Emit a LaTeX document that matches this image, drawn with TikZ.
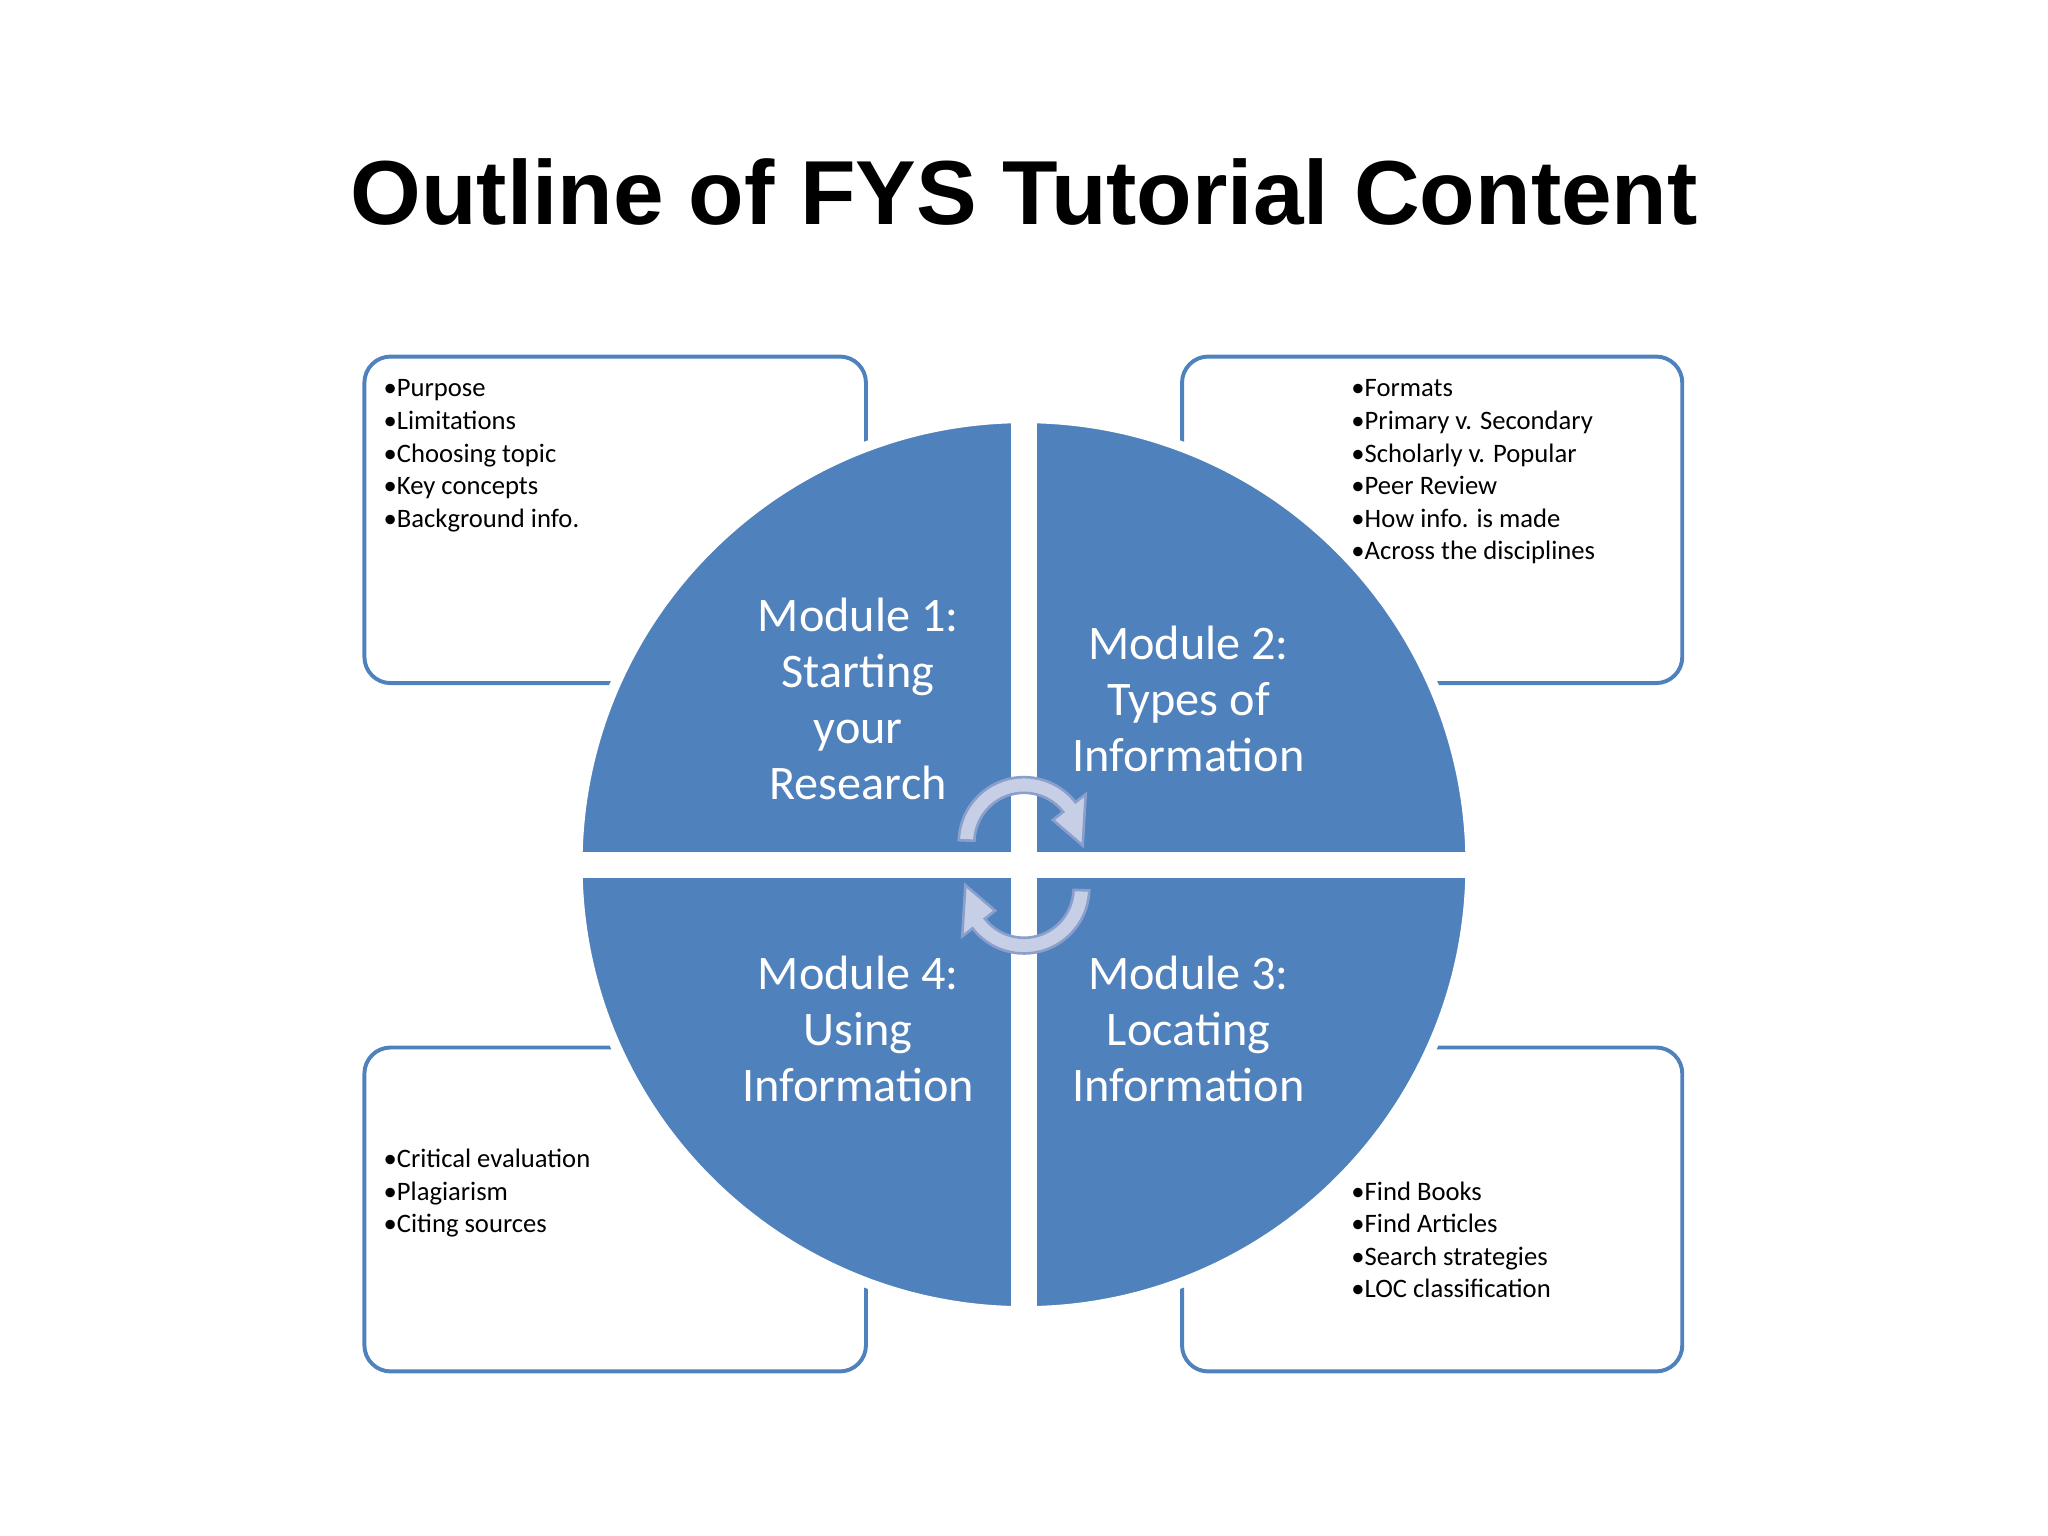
\documentclass[tikz,border=0pt]{standalone}
\usepackage{fontspec}
\usetikzlibrary{calc}
\setmainfont{Carlito}
\newfontfamily\titlef{Liberation Sans}
\definecolor{mblue}{HTML}{4F81BD}
\definecolor{afill}{HTML}{C6CFE6}
\definecolor{aedge}{HTML}{8A9FCB}
\begin{document}
\begin{tikzpicture}[x=0.01cm,y=-0.01cm,
  box/.style={draw=mblue,line width=0.03cm,rounded corners=0.2cm,fill=white},
  lst/.style={anchor=north west,align=left,inner sep=0pt,font=\fontsize{5.8}{7.1}\selectfont},
  mod/.style={align=center,text=white,inner sep=0pt,font=\fontsize{10.5}{12.2}\selectfont},
  arr/.style={fill=afill,draw=aedge,line width=0.02cm}]
\useasboundingbox[fill=white] (0,0) rectangle (1568,1176);
\node[font=\titlef\bfseries\fontsize{19.8}{24}\selectfont] (title) at (784,147) {Outline of FYS Tutorial Content};
% boxes
\draw[box] (279,273) rectangle (663,523);
\draw[box] (905,273) rectangle (1288,523);
\draw[box] (279,802) rectangle (663,1050);
\draw[box] (905,802) rectangle (1288,1050);
% circle
\fill[mblue,draw=white,line width=0.08cm] (784,662) circle (342);
\fill[white] (774,310) rectangle (794,1014);
\fill[white] (432,652) rectangle (1136,672);
% lists
\node[lst] (l1) at (293,290) {•Purpose\\•Limitations\\•Choosing topic\\•Key concepts\\•Background info.};
\node[lst] (l2) at (1034,290) {•Formats\\•Primary v. Secondary\\•Scholarly v. Popular\\•Peer Review\\•How info. is made\\•Across the disciplines};
\node[lst] (l4) at (293,879) {•Critical evaluation\\•Plagiarism\\•Citing sources};
\node[lst] (l3) at (1034,904) {•Find Books\\•Find Articles\\•Search strategies\\•LOC classification};
% module labels
\node[mod] (m1) at (657,535) {Module 1:\\Starting\\your\\Research};
\node[mod] (m2) at (910,535) {Module 2:\\Types of\\Information};
\node[mod] (m4) at (657,788) {Module 4:\\Using\\Information};
\node[mod] (m3) at (910,788) {Module 3:\\Locating\\Information};
% circular arrows
\coordinate (c1) at (784,645);
\coordinate (c2) at (784,680);
\draw[arr] ($(c1)+(-178:50)$) arc[start angle=-178,end angle=-38,radius=50]
  -- ($(c1)+(-38:60)$) -- ($(c1)+(3:45)$) -- ($(c1)+(-38:28)$) -- ($(c1)+(-38:38)$)
  arc[start angle=-38,end angle=-178,radius=38] -- cycle;
\draw[arr] ($(c2)+(2:50)$) arc[start angle=2,end angle=142,radius=50]
  -- ($(c2)+(142:60)$) -- ($(c2)+(183:45)$) -- ($(c2)+(142:28)$) -- ($(c2)+(142:38)$)
  arc[start angle=142,end angle=2,radius=38] -- cycle;
\end{tikzpicture}
\end{document}
